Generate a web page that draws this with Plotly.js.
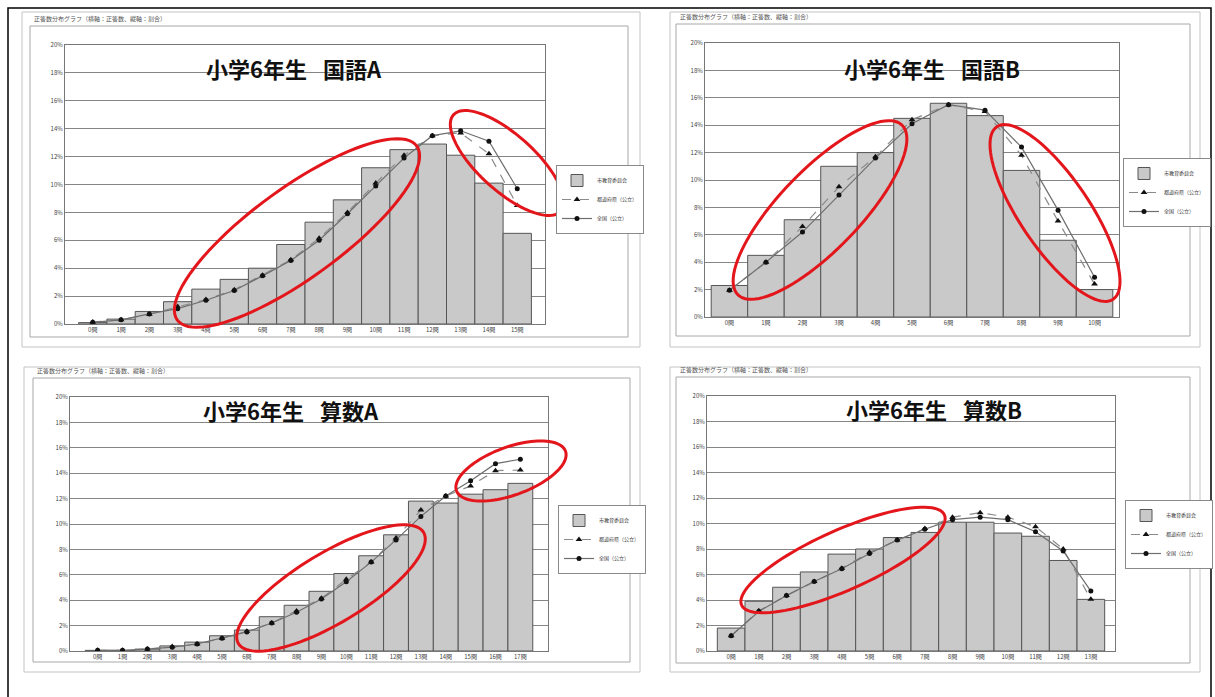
<!DOCTYPE html>
<html>
<head>
<meta charset="utf-8">
<script src="https://cdn.plot.ly/plotly-3.0.1.min.js"></script>
<style>
  html, body { margin: 0; padding: 0; background: #fff; }
  #chart { width: 1215px; height: 697px; }
</style>
</head>
<body>
<div id="chart"></div>
<script>
// ---- data: share of pupils (%) by number of correct answers ----
const catsKokugoA = ['0問','1問','2問','3問','4問','5問','6問','7問','8問','9問','10問','11問','12問','13問','14問','15問'];
const boardKokugoA = [0.1, 0.35, 0.9, 1.6, 2.5, 3.2, 4.0, 5.7, 7.3, 8.9, 11.2, 12.5, 12.9, 12.1, 10.1, 6.5];
const prefKokugoA  = [0.15, 0.3, 0.7, 1.25, 1.75, 2.45, 3.5, 4.6, 6.15, 8.0, 10.1, 12.1, 13.5, 13.7, 12.2, 8.5];
const natKokugoA   = [0.12, 0.3, 0.72, 1.1, 1.7, 2.4, 3.45, 4.55, 6.0, 7.9, 9.9, 11.9, 13.5, 13.85, 13.1, 9.7];

const catsKokugoB = ['0問','1問','2問','3問','4問','5問','6問','7問','8問','9問','10問'];
const boardKokugoB = [2.3, 4.5, 7.1, 11.0, 12.0, 14.5, 15.6, 14.7, 10.7, 5.6, 2.0];
const prefKokugoB  = [1.95, 4.0, 6.6, 9.5, 11.7, 14.4, 15.5, 15.0, 11.8, 7.0, 2.4];
const natKokugoB   = [1.95, 4.0, 6.2, 8.9, 11.6, 14.1, 15.5, 15.1, 12.4, 7.8, 2.9];

const catsSansuA = ['0問','1問','2問','3問','4問','5問','6問','7問','8問','9問','10問','11問','12問','13問','14問','15問','16問','17問'];
const boardSansuA = [0.05, 0.05, 0.15, 0.4, 0.7, 1.2, 1.65, 2.7, 3.6, 4.7, 6.1, 7.5, 9.15, 11.8, 11.65, 12.35, 12.7, 13.2];
const prefSansuA  = [0.05, 0.05, 0.15, 0.35, 0.55, 1.0, 1.55, 2.2, 3.15, 4.15, 5.65, 7.0, 8.9, 11.1, 12.2, 13.0, 14.2, 14.25];
const natSansuA   = [0.05, 0.05, 0.15, 0.3, 0.55, 1.0, 1.5, 2.2, 3.05, 4.1, 5.45, 7.0, 8.75, 10.6, 12.2, 13.4, 14.75, 15.1];

const catsSansuB = ['0問','1問','2問','3問','4問','5問','6問','7問','8問','9問','10問','11問','12問','13問'];
const boardSansuB = [1.8, 3.9, 5.0, 6.2, 7.6, 8.0, 8.9, 9.3, 10.1, 10.1, 9.25, 9.0, 7.1, 4.05];
const prefSansuB  = [1.2, 3.15, 4.35, 5.45, 6.5, 7.75, 8.7, 9.6, 10.5, 10.85, 10.5, 9.75, 8.0, 4.05];
const natSansuB   = [1.2, 3.1, 4.35, 5.45, 6.45, 7.65, 8.7, 9.55, 10.3, 10.5, 10.3, 9.35, 7.85, 4.7];

const chartTitles = ['小学6年生\u2002 国語A', '小学6年生\u2002 国語B', '小学6年生\u2002 算数A', '小学6年生\u2002 算数B'];
const seriesNames = ['市教育委員会', '都道府県（公立）', '全国（公立）'];
const headerText = '正答数分布グラフ（横軸：正答数、縦軸：割合）';

// ---- page geometry (pixels) ----
const W = 1215, H = 697;
const px = v => v / W;
const py = v => 1 - v / H;

const panels = [
  { cats: catsKokugoA, board: boardKokugoA, pref: prefKokugoA, nat: natKokugoA,
    plot: [65, 545, 45, 324], legend: [556, 165], title: [294, 68],
    outer: [22, 640, 12, 347], inner: [30, 628, 26, 337] },
  { cats: catsKokugoB, board: boardKokugoB, pref: prefKokugoB, nat: natKokugoB,
    plot: [705, 1119, 43, 317], legend: [1123, 158], title: [932, 68],
    outer: [670, 1200, 12, 347], inner: [676, 1190, 24, 336] },
  { cats: catsSansuA, board: boardSansuA, pref: prefSansuA, nat: natSansuA,
    plot: [70, 548, 397, 651], legend: [558, 505], title: [291, 410],
    outer: [24, 640, 367, 672], inner: [33, 630, 378, 662] },
  { cats: catsSansuB, board: boardSansuB, pref: prefSansuB, nat: natSansuB,
    plot: [707, 1115, 396, 651], legend: [1125, 500], title: [934, 409],
    outer: [670, 1200, 367, 672], inner: [676, 1190, 377, 663] }
];

// red highlight rings: centre x/y, semi-axes, rotation in degrees (pixels)
const rings = [
  [297, 233, 148, 45, -36],
  [507, 163, 72, 28, 42],
  [820, 210, 118, 40, -46],
  [1055, 213, 104, 35, 56],
  [331, 588, 108, 35, -31],
  [511, 471, 58, 24, -20],
  [843, 560, 111, 30, -24]
];

const traces = [];
const layout = {
  width: W, height: H, autosize: false,
  margin: { l: 0, r: 0, t: 0, b: 0 },
  paper_bgcolor: '#fff', plot_bgcolor: '#fff',
  bargap: 0,
  showlegend: true,
  font: { family: '"Noto Sans CJK JP", "Noto Sans", sans-serif', color: '#333' },
  shapes: [], annotations: []
};

panels.forEach((p, i) => {
  const n = i === 0 ? '' : String(i + 1);
  const xa = 'x' + n, ya = 'y' + n;
  const lg = 'legend' + n;

  traces.push({
    type: 'bar', x: p.cats, y: p.board, name: seriesNames[0],
    xaxis: xa, yaxis: ya, legend: lg,
    marker: { color: '#c9c9c9', line: { color: '#555', width: 1 } },
    hoverinfo: 'skip'
  });
  traces.push({
    type: 'scatter', mode: 'lines+markers', x: p.cats, y: p.pref, name: seriesNames[1],
    xaxis: xa, yaxis: ya, legend: lg,
    line: { color: '#8a8a8a', width: 1.2, dash: 'dash' },
    marker: { symbol: 'triangle-up', size: 6, color: '#111' },
    hoverinfo: 'skip'
  });
  traces.push({
    type: 'scatter', mode: 'lines+markers', x: p.cats, y: p.nat, name: seriesNames[2],
    xaxis: xa, yaxis: ya, legend: lg,
    line: { color: '#6e6e6e', width: 1.2 },
    marker: { symbol: 'circle', size: 5, color: '#111' },
    hoverinfo: 'skip'
  });

  const [x0, x1, y0, y1] = p.plot;
  layout['xaxis' + n] = {
    domain: [px(x0), px(x1)], anchor: ya, type: 'category',
    showgrid: false, showline: true, mirror: true, linecolor: '#777', linewidth: 1,
    ticks: '', tickfont: { size: 6, color: '#444' }, fixedrange: true, zeroline: false
  };
  layout['yaxis' + n] = {
    domain: [py(y1), py(y0)], anchor: xa, range: [0, 20], dtick: 2, ticksuffix: '%',
    showgrid: true, gridcolor: '#858585', gridwidth: 1,
    showline: true, mirror: true, linecolor: '#777', linewidth: 1,
    ticks: '', tickfont: { size: 6, color: '#444' }, fixedrange: true, zeroline: false
  };
  layout[lg] = {
    x: px(p.legend[0]), y: py(p.legend[1]), xanchor: 'left', yanchor: 'top',
    xref: 'paper', yref: 'paper',
    bgcolor: '#fff', bordercolor: '#8a8a8a', borderwidth: 1,
    font: { size: 5, color: '#333' }, itemwidth: 30, tracegroupgap: 0,
    traceorder: 'normal'
  };

  // panel frames
  const o = p.outer, r = p.inner;
  layout.shapes.push({ type: 'rect', xref: 'paper', yref: 'paper',
    x0: px(o[0]), x1: px(o[1]), y0: py(o[3]), y1: py(o[2]),
    line: { color: '#c4c4c4', width: 1 }, layer: 'below' });
  layout.shapes.push({ type: 'rect', xref: 'paper', yref: 'paper',
    x0: px(r[0]), x1: px(r[1]), y0: py(r[3]), y1: py(r[2]),
    line: { color: '#a8a8a8', width: 1 }, layer: 'below' });

  layout.annotations.push({
    text: headerText, xref: 'paper', yref: 'paper',
    x: px(r[0] + 2), y: py(r[2] - 1), xanchor: 'left', yanchor: 'bottom',
    showarrow: false, font: { size: 6, color: '#555' }
  });
  layout.annotations.push({
    text: '<b>' + chartTitles[i] + '</b>', xref: 'paper', yref: 'paper',
    x: px(p.title[0]), y: py(p.title[1]), xanchor: 'center', yanchor: 'middle',
    showarrow: false, font: { size: 22, color: '#111', family: '"Noto Sans CJK JP", sans-serif' }
  });
});

// outer border of the sheet
layout.shapes.push({ type: 'rect', xref: 'paper', yref: 'paper',
  x0: px(8), x1: px(1211), y0: py(700), y1: py(8),
  line: { color: '#000', width: 1.5 } });

// highlight rings as closed paths
rings.forEach(([cx, cy, a, b, deg]) => {
  const th = deg * Math.PI / 180;
  const pts = [];
  for (let k = 0; k <= 96; k++) {
    const t = 2 * Math.PI * k / 96;
    const x = cx + a * Math.cos(t) * Math.cos(th) - b * Math.sin(t) * Math.sin(th);
    const y = cy + a * Math.cos(t) * Math.sin(th) + b * Math.sin(t) * Math.cos(th);
    pts.push((k === 0 ? 'M' : 'L') + px(x).toFixed(5) + ',' + py(y).toFixed(5));
  }
  layout.shapes.push({ type: 'path', xref: 'paper', yref: 'paper',
    path: pts.join(' ') + ' Z', line: { color: '#e3161c', width: 3 }, layer: 'above' });
});

Plotly.newPlot('chart', traces, layout, { staticPlot: true, displayModeBar: false });
</script>
</body>
</html>
